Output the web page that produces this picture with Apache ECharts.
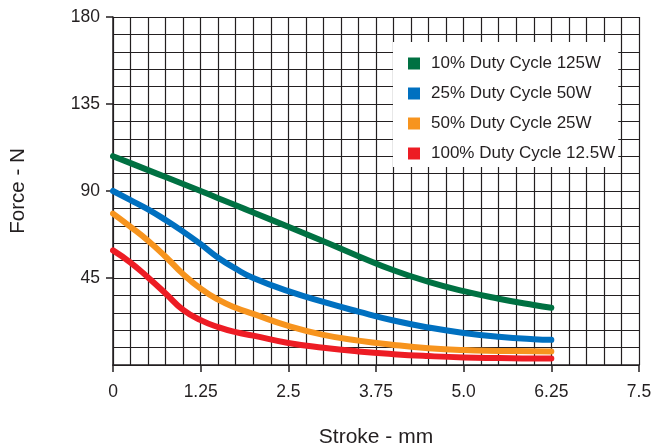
<!DOCTYPE html>
<html>
<head>
<meta charset="utf-8">
<script src="https://cdn.jsdelivr.net/npm/echarts@6/dist/echarts.min.js"></script>
<style>html,body{margin:0;padding:0;background:#fff}#c{width:653px;height:448px}</style>
</head>
<body>
<div id="c"></div>
<script>
var stroke = [0, 0.25, 0.5, 0.75, 1.0, 1.25, 1.5, 1.75, 2.0, 2.5, 3.0, 3.5, 4.0, 4.5, 5.0, 5.5, 6.0, 6.25];
var force10 = [108, 104.4, 100.8, 97.2, 93.6, 90, 86.3, 82.6, 78.9, 71.5, 64, 56.3, 49, 43, 38.2, 34.3, 31, 29.6];
var force25 = [90, 85.3, 80.5, 75, 69, 62.5, 55.5, 49.8, 45, 38.2, 32.6, 27.6, 23, 19.4, 16.6, 14.6, 13.3, 13];
var force50 = [78.3, 71.5, 64.3, 56, 47, 39.5, 33.8, 29.6, 26.4, 20.2, 15.6, 12.6, 10.4, 8.7, 7.7, 7.3, 7.1, 7];
var force100 = [59.3, 53, 45.3, 37, 28.5, 23.2, 19.6, 17, 15.2, 11.4, 8.9, 7, 5.6, 4.6, 3.9, 3.6, 3.4, 3.4];
var seriesNames = ['10% Duty Cycle 125W', '25% Duty Cycle 50W', '50% Duty Cycle 25W', '100% Duty Cycle 12.5W'];
var seriesColors = ['#007142', '#0070c0', '#f7941e', '#ed1c24'];
var xTickLabels = ['0', '1.25', '2.5', '3.75', '5.0', '6.25', '7.5'];
var yTickLabels = ['', '45', '90', '135', '180'];

function pairs(ys) { return stroke.map(function (x, i) { return [x, ys[i]]; }); }
var allForces = [force10, force25, force50, force100];

var font = "'Liberation Sans', Arial, sans-serif";
var ink = '#231f20';
var chart = echarts.init(document.getElementById('c'));
chart.setOption({
  animation: false,
  grid: { left: 113, right: 14, top: 17, bottom: 83, containLabel: false, outerBoundsMode: 'none' },
  legend: {
    left: 393, top: 42, orient: 'vertical',
    backgroundColor: '#fff', borderWidth: 0,
    padding: [13, 3, 5, 15],
    itemWidth: 12, itemHeight: 12, itemGap: 13,
    icon: 'rect',
    textStyle: { fontFamily: font, fontSize: 17, color: ink, lineHeight: 17, padding: [0, 0, 0, 6] },
    data: seriesNames
  },
  xAxis: {
    type: 'value', min: 0, max: 7.5, interval: 1.25,
    name: 'Stroke - mm', nameLocation: 'middle', nameGap: 62,
    nameTextStyle: { fontFamily: font, fontSize: 21, color: ink },
    axisLine: { show: true, lineStyle: { color: ink, width: 1.5 } },
    axisTick: { show: true, length: 7, lineStyle: { color: ink, width: 1.5 } },
    axisLabel: { fontFamily: font, fontSize: 17.5, color: ink, margin: 18,
      formatter: function (v) { return xTickLabels[Math.round(v / 1.25)]; } },
    splitLine: { show: true, lineStyle: { color: ink, width: 1.2 } },
    minorTick: { show: false, splitNumber: 5 },
    minorSplitLine: { show: true, lineStyle: { color: ink, width: 1.2 } }
  },
  yAxis: {
    type: 'value', min: 0, max: 180, interval: 45,
    name: 'Force - N', nameLocation: 'middle', nameGap: 84,
    nameTextStyle: { fontFamily: font, fontSize: 20.5, color: ink },
    axisLine: { show: true, lineStyle: { color: ink, width: 1.5 } },
    axisTick: { show: true, length: 7, lineStyle: { color: ink, width: 1.5 } },
    axisLabel: { fontFamily: font, fontSize: 17.5, color: ink, margin: 13, showMinLabel: false,
      formatter: function (v) { return yTickLabels[Math.round(v / 45)]; } },
    splitLine: { show: true, lineStyle: { color: ink, width: 1.2 } },
    minorTick: { show: false, splitNumber: 5 },
    minorSplitLine: { show: true, lineStyle: { color: ink, width: 1.2 } }
  },
  series: seriesNames.map(function (n, i) {
    return {
      name: n, type: 'line', smooth: 0.5, showSymbol: false, symbol: 'none',
      color: seriesColors[i],
      lineStyle: { width: 6, color: seriesColors[i], cap: 'round', join: 'round' },
      data: pairs(allForces[i])
    };
  })
});
</script>
</body>
</html>
